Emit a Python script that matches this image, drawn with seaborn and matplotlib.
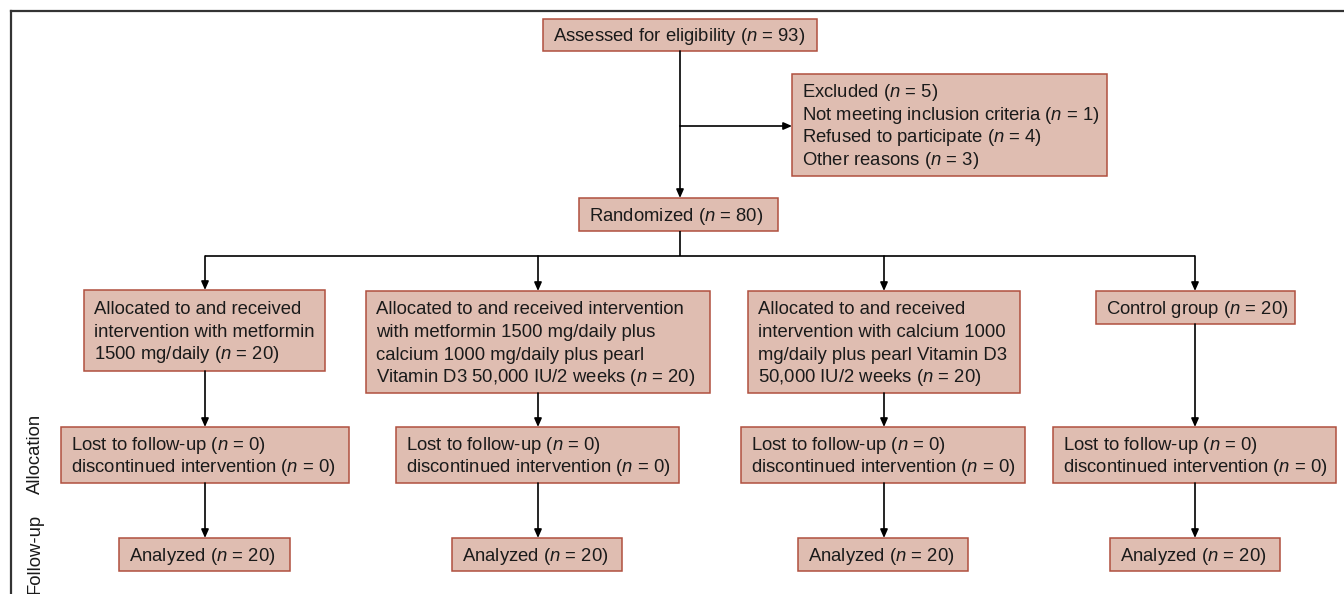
import matplotlib
matplotlib.use("Agg")
import matplotlib.pyplot as plt
import seaborn as sns
from matplotlib.patches import Rectangle

# --- data ---
assessed_n = 93
excluded_labels = ["Excluded", "Not meeting inclusion criteria", "Refused to participate", "Other reasons"]
excluded_n = [5, 1, 4, 3]
randomized_n = 80
group_texts = [
    "Allocated to and received\nintervention with metformin\n1500 mg/daily",
    "Allocated to and received intervention\nwith metformin 1500 mg/daily plus\ncalcium 1000 mg/daily plus pearl\nVitamin D3 50,000 IU/2 weeks",
    "Allocated to and received\nintervention with calcium 1000\nmg/daily plus pearl Vitamin D3\n50,000 IU/2 weeks",
    "Control group",
]
group_n = [20, 20, 20, 20]
lost_n = [0, 0, 0, 0]
discontinued_n = [0, 0, 0, 0]
analyzed_n = [20, 20, 20, 20]
stage_labels = ["Allocation", "Follow-up"]

# --- layout (pixels, y downwards) ---
W, H = 1344, 594
col_x = [205, 538, 884, 1195]
assessed_box = (543, 19, 817, 51)
excluded_box = (792, 74, 1107, 176)
randomized_box = (579, 198, 778, 231)
group_boxes = [(84, 290, 325, 371), (366, 291, 710, 393), (748, 291, 1020, 393), (1096, 291, 1295, 324)]
lost_boxes = [(61, 427, 349, 483), (396, 427, 679, 483), (741, 427, 1025, 483), (1053, 427, 1336, 483)]
analyzed_boxes = [(119, 538, 290, 571), (452, 538, 622, 571), (798, 538, 968, 571), (1110, 538, 1280, 571)]

FILL = "#dfbdb1"
EDGE = "#b0503f"
FS = 13.3
LINE_H = 22.6

sns.set_style("white")
plt.rcParams["font.family"] = ["Liberation Sans", "DejaVu Sans"]
plt.rcParams["mathtext.fontset"] = "custom"
plt.rcParams["mathtext.it"] = "Liberation Sans:italic"
plt.rcParams["mathtext.rm"] = "Liberation Sans"

fig = plt.figure(figsize=(W / 100, H / 100), dpi=100)
ax = fig.add_axes([11 / W, 0, 1 - 11 / W, 1 - 11 / H])
ax.set_xlim(11, W)
ax.set_ylim(H, 11)
ax.set_xticks([])
ax.set_yticks([])
sns.despine(ax=ax, right=True, bottom=True, top=False, left=False)
for s in ["top", "left"]:
    ax.spines[s].set_color("#333333")
    ax.spines[s].set_linewidth(1.6)


def nn(v):
    return f"($n$ = {v})"


def box(b, text, fs=FS):
    x0, y0, x1, y1 = b
    ax.add_patch(Rectangle((x0, y0), x1 - x0, y1 - y0, facecolor=FILL,
                           edgecolor=EDGE, lw=1.1, zorder=2))
    lines = text.split("\n")
    cy = (y0 + y1) / 2
    for k, ln in enumerate(lines):
        ly = cy + (k - (len(lines) - 1) / 2) * LINE_H
        ax.text(x0 + 10, ly + 6.2, ln, ha="left", va="baseline",
                fontsize=fs, color="#1a1a1a", zorder=3)


def arrow(x0, y0, x1, y1):
    ax.annotate("", xy=(x1, y1), xytext=(x0, y0),
                arrowprops=dict(arrowstyle="-|>,head_length=0.5,head_width=0.22",
                                color="black", lw=1.2, shrinkA=0, shrinkB=0))


def line(xs, ys):
    ax.plot(xs, ys, color="black", lw=1.2, solid_capstyle="butt")


# top part
box(assessed_box, f"Assessed for eligibility {nn(assessed_n)}")
box(excluded_box, "\n".join(f"{l} {nn(v)}" for l, v in zip(excluded_labels, excluded_n)))
box(randomized_box, f"Randomized {nn(randomized_n)}")
arrow(680, assessed_box[3], 680, randomized_box[1])
arrow(680, 126, excluded_box[0], 126)

# branch
line([680, 680], [randomized_box[3], 256])
line([col_x[0], col_x[-1]], [256, 256])

for i, cx in enumerate(col_x):
    g = group_boxes[i]
    arrow(cx, 256, cx, g[1])
    box(g, f"{group_texts[i]} {nn(group_n[i])}")
    lb = lost_boxes[i]
    arrow(cx, g[3], cx, lb[1])
    box(lb, f"Lost to follow-up {nn(lost_n[i])}\ndiscontinued intervention {nn(discontinued_n[i])}")
    ab = analyzed_boxes[i]
    arrow(cx, lb[3], cx, ab[1])
    box(ab, f"Analyzed {nn(analyzed_n[i])}")

ax.text(35, 454, stage_labels[0], rotation=90, ha="center", va="center", fontsize=FS, color="#1a1a1a")
ax.text(35, 554, stage_labels[1], rotation=90, ha="center", va="center", fontsize=FS, color="#1a1a1a")

fig.savefig("out.png", dpi=100)
